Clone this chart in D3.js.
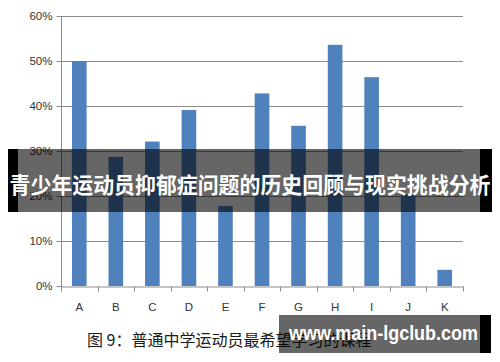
<!DOCTYPE html>
<html>
<head>
<meta charset="utf-8">
<script src="https://cdn.jsdelivr.net/npm/d3@7"></script>
<style>
  body { margin: 0; background: #fff; }
  svg { display: block; }
</style>
</head>
<body>
<svg id="chart" width="500" height="362"></svg>
<script>
// data
const categories = ['A', 'B', 'C', 'D', 'E', 'F', 'G', 'H', 'I', 'J', 'K'];
const values = [0.50, 0.287, 0.321, 0.391, 0.178, 0.428, 0.356, 0.536, 0.464, 0.204, 0.036];
const yTicks = [0, 0.1, 0.2, 0.3, 0.4, 0.5, 0.6];
const caption = '图 9：普通中学运动员最希望学习的课程';
const banner = '青少年运动员抑郁症问题的历史回顾与现实挑战分析';
const watermark = 'www.main-lgclub.com';

const svg = d3.select('#chart');
const plotLeft = 61, plotRight = 463, plotTop = 16, plotBottom = 286;

const x = d3.scaleBand().domain(categories).range([plotLeft, plotRight]).paddingInner(0.6).paddingOuter(0.3);
const y = d3.scaleLinear().domain([0, 0.6]).range([plotBottom, plotTop]);

// gridlines
svg.append('g')
  .selectAll('line')
  .data(yTicks.slice(1))
  .enter().append('line')
  .attr('x1', plotLeft).attr('x2', plotRight)
  .attr('y1', d => y(d) + 0.5).attr('y2', d => y(d) + 0.5)
  .attr('stroke', '#8c8c8c').attr('stroke-width', 1);

// bars
svg.append('g')
  .selectAll('rect')
  .data(values)
  .enter().append('rect')
  .attr('x', (d, i) => x(categories[i]))
  .attr('y', d => y(d))
  .attr('width', x.bandwidth())
  .attr('height', d => plotBottom - y(d))
  .attr('fill', '#4f81bd');

// y axis
const yAxis = svg.append('g')
  .attr('transform', `translate(${plotLeft + 0.5},0)`)
  .call(d3.axisLeft(y).tickValues(yTicks).tickFormat(d3.format('.0%')).tickSize(5).tickPadding(4));
yAxis.select('.domain').attr('stroke', '#8c8c8c').attr('d', `M0,${plotTop}V${plotBottom + 4}`);
yAxis.selectAll('.tick line').attr('stroke', '#8c8c8c');
yAxis.selectAll('.tick text')
  .attr('fill', '#333')
  .style('font-family', '"Liberation Sans", Arial, sans-serif')
  .style('font-size', '11.5px');

// x axis
const xAxis = svg.append('g')
  .attr('transform', `translate(0,${plotBottom + 0.5})`)
  .call(d3.axisBottom(x).tickSize(0).tickPadding(16));
xAxis.select('.domain').attr('stroke', '#8c8c8c');
xAxis.selectAll('.tick text')
  .attr('fill', '#333')
  .style('font-family', '"Liberation Sans", Arial, sans-serif')
  .style('font-size', '11.5px');
// boundary ticks between categories
const step = (plotRight - plotLeft) / categories.length;
xAxis.append('g')
  .selectAll('line')
  .data(d3.range(categories.length + 1))
  .enter().append('line')
  .attr('x1', i => Math.round(plotLeft + i * step) + 0.5)
  .attr('x2', i => Math.round(plotLeft + i * step) + 0.5)
  .attr('y1', 0).attr('y2', 5)
  .attr('stroke', '#8c8c8c');

// caption
svg.append('text')
  .attr('x', 87).attr('y', 346)
  .attr('fill', '#1a1a1a')
  .style('font-family', '"Noto Sans CJK SC", sans-serif')
  .style('font-weight', 400)
  .style('font-size', '16px')
  .text(caption);

// title banner overlay
const bannerG = svg.append('g');
bannerG.append('rect').attr('x', 8).attr('y', 149).attr('width', 10).attr('height', 63).attr('fill', '#000');
bannerG.append('rect').attr('x', 480).attr('y', 149).attr('width', 12).attr('height', 63).attr('fill', '#000');
bannerG.append('rect').attr('x', 18).attr('y', 149).attr('width', 462).attr('height', 63).attr('fill', 'rgba(0,0,0,0.6)');
bannerG.append('text')
  .attr('x', 250).attr('y', 193)
  .attr('text-anchor', 'middle')
  .attr('fill', '#fff')
  .attr('textLength', 481)
  .attr('lengthAdjust', 'spacingAndGlyphs')
  .style('font-family', '"Noto Sans CJK SC", sans-serif')
  .style('font-weight', 700)
  .style('font-size', '22px')
  .text(banner);

// watermark overlay
const wmG = svg.append('g');
wmG.append('rect').attr('x', 480).attr('y', 315).attr('width', 11).attr('height', 38).attr('fill', '#000');
wmG.append('rect').attr('x', 279).attr('y', 315).attr('width', 201).attr('height', 38).attr('fill', 'rgba(0,0,0,0.6)');
wmG.append('text')
  .attr('x', 289).attr('y', 340)
  .attr('fill', '#fff')
  .attr('textLength', 189)
  .attr('lengthAdjust', 'spacingAndGlyphs')
  .style('font-family', '"Liberation Sans", Arial, sans-serif')
  .style('font-weight', 700)
  .style('font-size', '20px')
  .text(watermark);
</script>
</body>
</html>
